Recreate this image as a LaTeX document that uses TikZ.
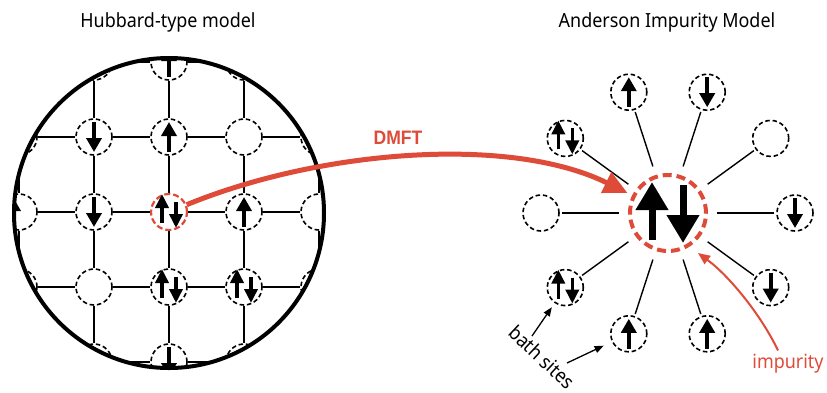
\documentclass[tikz,border=0pt]{standalone}
\usepackage{fontspec}
\setmainfont{Noto Sans}[FakeStretch=0.92]
\newfontfamily\heavyfont{Liberation Sans}[FakeStretch=0.9]
\usetikzlibrary{arrows.meta}
\definecolor{dmftred}{RGB}{222,75,57}

\tikzset{
  site/.style={circle, draw=black, fill=white, minimum size=36pt, inner sep=0pt,
    line width=1.6pt, dash pattern=on 4.5pt off 2.8pt},
  redsite/.style={draw=dmftred, line width=2.2pt, dash pattern=on 6pt off 3pt},
  impsite/.style={circle, draw=dmftred, minimum size=76pt, inner sep=0pt,
    line width=4pt, dash pattern=on 9pt off 5pt},
  bond/.style={line width=1.6pt},
  spoke/.style={line width=1.4pt, shorten <=2pt, shorten >=9pt},
  spin/.style={line width=4pt, -{Triangle[width=15pt,length=14pt]}},
  spinpair/.style={line width=3.6pt, -{Triangle[width=13pt,length=14pt]}},
  bigspin/.style={line width=7pt, -{Triangle[width=31pt,length=28pt]}},
  dmftarrow/.style={draw=dmftred, line width=5pt, -{Triangle[width=22pt,length=24pt]}},
  pointer/.style={line width=1.3pt, -{Triangle[width=7pt,length=9pt]}},
  redpointer/.style={draw=dmftred, line width=2pt, -{Triangle[width=10pt,length=12pt]}},
  label/.style={font=\fontsize{19.5}{22}\selectfont, inner sep=0pt},
  up/.pic={\draw[spin] (0,15) -- (0,-15);},
  down/.pic={\draw[spin] (0,-15) -- (0,15);},
  updown/.pic={\draw[spinpair] (-7,11) -- (-7,-18); \draw[spinpair] (7,-10) -- (7,16);},
  bigupdown/.pic={\draw[bigspin] (-16,27) -- (-16,-31); \draw[bigspin] (15,-28) -- (15,30);}
}

\begin{document}
\begin{tikzpicture}[x=1pt, y=-1pt]
\useasboundingbox (0,0) rectangle (827,392);

% ---- square lattice seen through a round window ----
\begin{scope}
  \clip (169,213) circle[radius=155];
  \foreach \r in {0,...,4}{
    \foreach \c in {0,...,4}{
      \pgfmathtruncatemacro\k{\r*5+\c}
      \ifnum\k=12
        \node[site, redsite] (l\r\c) at (19+75*\c, 62+75*\r) {};
      \else
        \node[site] (l\r\c) at (19+75*\c, 62+75*\r) {};
      \fi
    }
  }
  \foreach \r in {0,...,4}{
    \foreach \c/\d in {0/1,1/2,2/3,3/4}{
      \draw[bond] (l\r\c) -- (l\r\d);
      \draw[bond] (l\c\r) -- (l\d\r);
    }
  }
  \pic at (l02) {up};
  \pic at (l11) {down};
  \pic at (l12) {up};
  \pic at ([xshift=-6pt]l20.center) {up};
  \pic at (l21) {down};
  \pic at (l22) {updown};
  \pic at (l23) {up};
  \pic at (l32) {updown};
  \pic at (l33) {updown};
  \pic at (l42) {down};
\end{scope}
\draw[line width=4pt] (169,213) circle[radius=155];

\node[label, anchor=base] (t1) at (168,27) {Hubbard-type model};
\node[label, anchor=base] (t2) at (667,27) {Anderson Impurity Model};

% ---- impurity with its bath ----
\node[impsite] (imp) at (668,213) {};
\pic at (imp) {bigupdown};

\node[site] (b1)  at (628.8,92.2) {};
\node[site] (b2)  at (707.2,92.2) {};
\node[site] (b3)  at (565.3,138.4) {};
\node[site] (b4)  at (770.7,138.4) {};
\node[site] (b5)  at (541,213) {};
\node[site] (b6)  at (795,213) {};
\node[site] (b7)  at (565.3,287.6) {};
\node[site] (b8)  at (770.7,287.6) {};
\node[site] (b9)  at (628.8,333.8) {};
\node[site] (b10) at (707.2,333.8) {};
\foreach \b in {1,...,10}{\draw[spoke] (b\b) -- (imp);}

\pic at (b1) {up};
\pic at (b2) {down};
\pic at (b3) {updown};
\pic at (b6) {down};
\pic at (b7) {updown};
\pic at (b8) {down};
\pic at (b9) {up};
\pic at (b10) {up};

% ---- DMFT mapping ----
\draw[dmftarrow, shorten >=5pt] (l22) .. controls (320,150) and (510,135) .. (imp);
\node[anchor=base, inner sep=0pt, text=dmftred, font=\heavyfont\bfseries\fontsize{19.5}{22}\selectfont] (dmft) at (398,144) {DMFT};

% ---- labels ----
\node[label, anchor=base, text=dmftred] (imptext) at (788,368) {impurity};
\coordinate (itip) at (698,253);
\draw[redpointer] ([xshift=-10pt,yshift=3pt]imptext.north) .. controls (760,313) and (728,275) .. (itip);

\node[label, rotate=-43] (bath) at (542,357) {bath sites};
\coordinate (p1) at (532,336);
\coordinate (p2) at (567,363);
\draw[pointer, shorten >=5pt] (p1) -- (b7);
\draw[pointer, shorten >=9pt] (p2) -- (b9);
\end{tikzpicture}
\end{document}
